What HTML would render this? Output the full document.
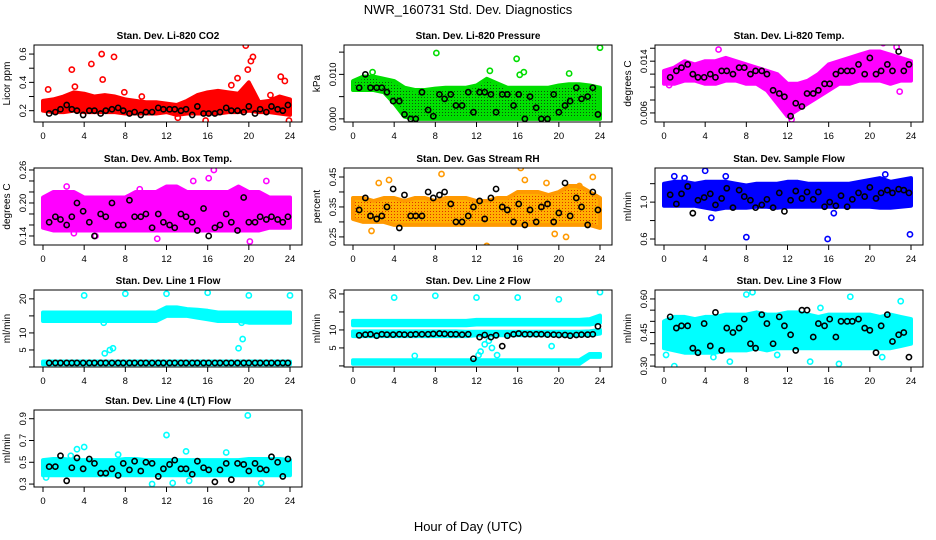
<!DOCTYPE html>
<html><head><meta charset="utf-8"><style>
html,body{margin:0;padding:0;background:#fff;}
svg{display:block;font-family:"Liberation Sans",Arial,sans-serif;}
</style></head><body>
<svg id="chart" width="936" height="540" viewBox="0 0 936 540" xmlns="http://www.w3.org/2000/svg">
<defs>
<pattern id="patGreen" width="3" height="3" patternUnits="userSpaceOnUse"><rect width="3" height="3" fill="#00e000"/><rect x="1" y="1" width="1" height="1" fill="#105010"/></pattern>
<pattern id="patOrange" width="3" height="3" patternUnits="userSpaceOnUse"><rect width="3" height="3" fill="#ffb000"/><rect x="1" y="1" width="1" height="1" fill="#e03000"/></pattern>
</defs>
<text x="468" y="14" text-anchor="middle" font-size="13">NWR_160731  Std. Dev. Diagnostics</text>
<text x="468" y="531" text-anchor="middle" font-size="13">Hour of Day (UTC)</text>
</svg>
<script>
// shared hours
const hours = [0,1,2,3,4,5,6,7,8,9,10,11,12,13,14,15,16,17,18,19,20,21,22,23,24];
const meanHours = [0.6,1.2,1.7,2.3,2.8,3.3,3.9,4.5,5,5.6,6.1,6.7,7.3,7.8,8.4,8.9,9.5,10,10.6,11.2,11.7,12.3,12.8,13.4,13.9,14.5,15,15.6,16.1,16.7,17.2,17.8,18.3,18.9,19.5,20,20.6,21.1,21.7,22.2,22.8,23.3,23.8];
const xTicks = [0,4,8,12,16,20,24];

// Panel 1 CO2
const co2Hi = [0.27,0.28,0.30,0.33,0.32,0.30,0.31,0.30,0.28,0.27,0.26,0.26,0.25,0.24,0.27,0.31,0.33,0.34,0.33,0.32,0.40,0.26,0.27,0.30,0.28];
const co2Lo = [0.20,0.19,0.19,0.20,0.19,0.19,0.19,0.19,0.18,0.18,0.18,0.18,0.19,0.17,0.18,0.18,0.18,0.18,0.19,0.19,0.20,0.19,0.19,0.18,0.17];
const co2OutX = [0.5,2.8,3.1,4.7,5.7,5.8,6.9,7.9,9.6,15.8,18.3,18.9,19.7,19.9,20.2,20.4,23.1,23.5,23.9,13.1,22.1];
const co2OutY = [0.35,0.49,0.37,0.53,0.60,0.42,0.58,0.33,0.30,0.13,0.38,0.43,0.66,0.49,0.55,0.58,0.44,0.41,0.13,0.15,0.31];
const co2Mean = [0.18,0.19,0.21,0.24,0.21,0.20,0.17,0.20,0.20,0.18,0.20,0.21,0.22,0.20,0.18,0.19,0.17,0.19,0.19,0.22,0.21,0.21,0.21,0.20,0.21,0.17,0.23,0.18,0.18,0.18,0.19,0.22,0.20,0.20,0.19,0.23,0.18,0.21,0.19,0.23,0.21,0.20,0.24];
// Panel 2 Pressure
const presHi = [0.0085,0.0095,0.0095,0.009,0.0085,0.007,0.0065,0.0065,0.0068,0.007,0.007,0.007,0.0075,0.009,0.008,0.007,0.007,0.007,0.007,0.007,0.0075,0.0078,0.0078,0.0075,0.007];
const presLo = [0.0065,0.0065,0.0065,0.006,0.0035,0.0005,0,0,0,0,0,0,0,0,0,0,0,0,0,0,0,0,0,0,0];
const presOutX = [8.1,15.9,16.2,16.6,21,24,13.3,1.9];
const presOutY = [0.0148,0.0135,0.0099,0.0105,0.0102,0.0160,0.0108,0.0105];
const presMean = [0.007,0.010,0.007,0.007,0.007,0.006,0.004,0.004,0.001,0,0,0.006,0.002,0.0006,0.0055,0.0045,0.0055,0.003,0.003,0.006,0.0015,0.006,0.006,0.0055,0.0015,0.0055,0.0055,0.003,0.0055,0,0.005,0.0025,0,0,0.0055,0.0015,0.003,0.004,0.007,0.0045,0.005,0.007,0.001];
// Panel 3 Li-820 Temp
const tempHi = [0.0125,0.013,0.014,0.0135,0.014,0.014,0.0145,0.014,0.0135,0.013,0.0125,0.012,0.0105,0.0105,0.011,0.012,0.0135,0.014,0.0145,0.015,0.0155,0.0155,0.015,0.0145,0.014];
const tempLo = [0.0105,0.0105,0.011,0.011,0.0105,0.0105,0.011,0.011,0.0105,0.0105,0.0095,0.0075,0.0055,0.0065,0.0075,0.0085,0.0095,0.0105,0.0105,0.011,0.011,0.011,0.0105,0.011,0.011];
const tempOutX = [5.3,21.3,22.6,22.9,12.4,0.5];
const tempOutY = [0.0158,0.0168,0.0162,0.0093,0.0050,0.0103];
const tempMean = [0.0115,0.0125,0.013,0.0135,0.012,0.0115,0.0115,0.012,0.0115,0.0125,0.0125,0.012,0.013,0.013,0.012,0.0125,0.0125,0.012,0.0095,0.009,0.0085,0.0055,0.0075,0.007,0.009,0.009,0.0095,0.0105,0.0105,0.012,0.0125,0.0125,0.0125,0.0135,0.012,0.0145,0.012,0.0125,0.0135,0.0125,0.0155,0.0125,0.0135];
// Panel 4 Amb box temp
const ambHi = [0.21,0.22,0.22,0.22,0.21,0.21,0.21,0.21,0.21,0.22,0.22,0.22,0.23,0.23,0.22,0.22,0.22,0.22,0.22,0.23,0.22,0.22,0.21,0.21,0.21];
const ambLo = [0.155,0.15,0.15,0.15,0.15,0.15,0.15,0.15,0.15,0.15,0.15,0.15,0.15,0.15,0.15,0.15,0.15,0.15,0.15,0.15,0.15,0.15,0.155,0.155,0.155];
const ambOutX = [2.3,9.4,14.6,16.1,16.6,21.7,20.1,11.1,5.1,3.0];
const ambOutY = [0.23,0.225,0.24,0.245,0.26,0.24,0.13,0.135,0.14,0.145];
const ambMean = [0.165,0.175,0.17,0.16,0.175,0.20,0.185,0.165,0.14,0.18,0.175,0.20,0.16,0.16,0.205,0.175,0.175,0.18,0.155,0.18,0.165,0.16,0.155,0.18,0.175,0.165,0.15,0.19,0.14,0.155,0.16,0.18,0.165,0.15,0.21,0.165,0.165,0.175,0.17,0.175,0.17,0.165,0.175];
// Panel 5 RH
const rhHi = [0.38,0.38,0.37,0.38,0.38,0.37,0.38,0.38,0.37,0.38,0.38,0.38,0.37,0.37,0.38,0.38,0.40,0.40,0.40,0.39,0.40,0.42,0.42,0.40,0.38];
const rhLo = [0.31,0.30,0.30,0.30,0.29,0.29,0.29,0.29,0.29,0.29,0.29,0.29,0.29,0.29,0.29,0.29,0.29,0.29,0.29,0.29,0.29,0.29,0.29,0.29,0.28];
const rhOutX = [1.8,2.5,3.5,8.6,13,16.3,16.7,18.8,23.3,19.6,20.7,22];
const rhOutY = [0.27,0.43,0.44,0.46,0.22,0.48,0.44,0.43,0.45,0.26,0.25,0.42];
const rhMean = [0.34,0.38,0.32,0.31,0.32,0.35,0.41,0.28,0.39,0.32,0.32,0.32,0.40,0.38,0.39,0.40,0.36,0.30,0.30,0.32,0.35,0.37,0.31,0.38,0.41,0.35,0.34,0.30,0.36,0.29,0.34,0.30,0.35,0.36,0.30,0.33,0.43,0.32,0.38,0.35,0.29,0.40,0.34];
// Panel 6 Sample flow
const sfHi = [1.2,1.22,1.22,1.2,1.22,1.22,1.22,1.2,1.18,1.2,1.2,1.2,1.22,1.22,1.2,1.2,1.2,1.2,1.2,1.22,1.24,1.26,1.22,1.24,1.26];
const sfLo = [0.96,0.96,0.96,0.96,0.94,0.92,0.94,0.94,0.94,0.95,0.95,0.94,0.95,0.95,0.95,0.95,0.95,0.95,0.95,0.95,0.95,0.94,0.94,0.95,0.96];
const sfOutX = [4,4.6,1,21.5,8,15.9,23.9,16.5,2,6];
const sfOutY = [1.34,0.83,1.28,1.30,0.62,0.60,0.65,0.88,1.26,1.28];
const sfMean = [1.08,0.98,1.09,1.17,0.88,1.02,1.05,1.09,0.97,1.04,1.15,0.94,1.13,1.06,1.02,0.94,0.97,1.03,0.94,1.10,0.90,1.02,1.12,1.04,1.11,1.03,1.11,0.95,1.0,0.96,1.07,0.95,1.03,1.10,1.06,1.16,1.04,1.10,1.13,1.10,1.14,1.13,1.10];
// Panel 7 Line 1
const l1HiA = [16,16,16,16,16,16,16,16,16,16,16,16,17.5,17.5,17,16.8,16.5,16,16,16,16,16,16,16,16];
const l1LoA = [13.5,13.5,13.5,13.5,13.5,13.5,13.5,13.5,13.5,13.5,13.5,13.5,15,15,15,14.5,14,13.5,13.5,13.5,13,13,13,13,13];
const l1HiB = [1.6,1.6,1.6,1.6,1.6,1.6,1.6,1.6,1.6,1.6,1.6,1.6,1.6,1.6,1.6,1.6,1.6,1.6,1.6,1.6,1.6,1.6,1.6,1.6,1.6];
const l1LoB = [0.8,0.8,0.8,0.8,0.8,0.8,0.8,0.8,0.8,0.8,0.8,0.8,0.8,0.8,0.8,0.8,0.8,0.8,0.8,0.8,0.8,0.8,0.8,0.8,0.8];
const l1OutX = [4,8,12,16,20,24,6,6.5,6.8,19,19.4,5.9,19.3];
const l1OutY = [21,21.5,21.5,21.8,21,21,4,5,5.5,5.5,8.2,13,13];
const l1Mean = [1.2,1.2,1.2,1.2,1.2,1.2,1.2,1.2,1.2,1.2,1.2,1.2,1.2,1.2,1.2,1.2,1.2,1.2,1.2,1.2,1.2,1.2,1.2,1.2,1.2,1.2,1.2,1.2,1.2,1.2,1.2,1.2,1.2,1.2,1.2,1.2,1.2,1.2,1.2,1.2,1.2,1.2,1.2];
// Panel 8 Line 2
const l2HiA = [12.5,12.5,12.5,12.5,12.5,12.5,12.5,12.5,12.5,12.5,12.5,12.5,12.8,12.8,12.8,12.8,12.8,12.8,12.8,12.8,12.8,12.8,12.8,13,14];
const l2LoA = [11.3,11.3,11.3,11.3,11.3,11.3,11.3,11.3,11.3,11.3,11.3,11.3,11.5,11.5,11.5,11.5,11.5,11.5,11.5,11.5,11.5,11.5,11.5,11.5,12];
const l2HiB = [9.6,9.6,9.6,9.6,9.6,9.6,9.6,9.6,9.6,9.6,9.6,9.5,9.5,9.5,9.5,9.5,9.5,9.5,9.5,9.5,9.5,9.5,9.5,9.6,10];
const l2LoB = [8.3,8.3,8.3,8.3,8.3,8.3,8.3,8.3,8.3,8.3,8.3,8.3,8.5,8.5,8.5,8.5,8.5,8.5,8.5,8.5,8.5,8.5,8.5,8.5,9];
const l2HiC = [1.6,1.6,1.6,1.6,1.6,1.6,1.6,1.6,1.6,1.6,1.6,1.6,1.6,1.6,1.6,1.6,1.6,1.6,1.6,1.6,1.6,1.6,1.6,3.3,3.3];
const l2LoC = [0.6,0.6,0.6,0.6,0.6,0.6,0.6,0.6,0.6,0.6,0.6,0.6,0.6,0.6,0.6,0.6,0.6,0.6,0.6,0.6,0.6,0.6,0.6,2.5,2.5];
const l2OutX = [4,8,12,16,20,24,12.4,12.8,13.5,14,19.3,6,13.2,12.2];
const l2OutY = [19,19.5,19,19,18.5,20.5,4,6,5,3,5.5,2.8,7,3];
const l2Mean = [8.5,8.7,8.8,8.4,8.8,8.7,8.7,8.8,8.7,8.7,8.8,8.8,8.8,8.9,9.0,8.9,8.8,8.8,8.7,8.8,2.0,8.0,8.6,8.0,8.5,5.5,8.4,8.8,9.0,8.8,8.8,8.8,8.8,8.7,8.7,8.6,8.6,8.4,8.6,8.7,8.7,8.8,11.0];
// Panel 9 Line 3
const l3Hi = [0.50,0.52,0.52,0.51,0.52,0.52,0.53,0.53,0.53,0.54,0.53,0.53,0.54,0.54,0.53,0.52,0.53,0.53,0.53,0.53,0.53,0.52,0.53,0.52,0.51];
const l3Lo = [0.38,0.37,0.36,0.36,0.36,0.36,0.37,0.37,0.37,0.38,0.37,0.38,0.38,0.38,0.38,0.38,0.38,0.38,0.38,0.38,0.38,0.38,0.38,0.39,0.40];
const l3OutX = [1,6.4,8,8.6,14.2,17,18.1,23,0.2,21.2,4.8,11,15.2];
const l3OutY = [0.30,0.32,0.62,0.63,0.32,0.31,0.61,0.59,0.35,0.34,0.34,0.35,0.56];
const l3Mean = [0.52,0.47,0.48,0.48,0.38,0.36,0.49,0.39,0.54,0.37,0.47,0.45,0.47,0.51,0.40,0.38,0.53,0.49,0.40,0.52,0.48,0.44,0.37,0.55,0.55,0.43,0.49,0.48,0.51,0.43,0.50,0.50,0.50,0.51,0.47,0.46,0.36,0.48,0.53,0.41,0.44,0.45,0.34];
// Panel 10 Line 4
const l4Hi = [0.52,0.53,0.53,0.52,0.52,0.52,0.52,0.52,0.53,0.53,0.52,0.52,0.52,0.52,0.52,0.52,0.52,0.52,0.52,0.52,0.53,0.53,0.53,0.53,0.52];
const l4Lo = [0.38,0.38,0.38,0.38,0.38,0.38,0.38,0.38,0.38,0.38,0.38,0.38,0.38,0.38,0.38,0.38,0.38,0.38,0.38,0.38,0.38,0.38,0.38,0.38,0.38];
const l4OutX = [12,19.9,3.3,4,7.3,13.9,17.8,10.6,12.6,21.2,0.3,2.7,14.2];
const l4OutY = [0.75,0.93,0.62,0.64,0.57,0.60,0.59,0.30,0.31,0.31,0.36,0.56,0.33];
const l4Mean = [0.46,0.46,0.56,0.33,0.45,0.54,0.44,0.53,0.49,0.40,0.40,0.44,0.38,0.49,0.43,0.51,0.42,0.50,0.49,0.37,0.44,0.48,0.52,0.44,0.44,0.39,0.51,0.45,0.43,0.32,0.43,0.49,0.34,0.49,0.48,0.42,0.49,0.44,0.43,0.55,0.50,0.37,0.53];

const panels = [
 {name:'co2',title:'Stan. Dev. Li-820 CO2',ylab:'Licor ppm',col:0,row:0,ymin:0.12,ymax:0.664,ticks:[0.2,0.3,0.4,0.5,0.6],labels:[0.2,0.4,0.6],dec:1,color:'#ff0000',fill:'#ff0000',bands:[[co2Lo,co2Hi]],ox:co2OutX,oy:co2OutY,my:co2Mean},
 {name:'pressure',title:'Stan. Dev. Li-820 Pressure',ylab:'kPa',col:1,row:0,ymin:-0.0007,ymax:0.0166,ticks:[0,0.005,0.010,0.015],labels:[0,0.010],dec:3,color:'#00dd00',fill:'url(#patGreen)',bands:[[presLo,presHi]],ox:presOutX,oy:presOutY,my:presMean},
 {name:'li820-temp',title:'Stan. Dev. Li-820 Temp.',ylab:'degrees C',col:2,row:0,ymin:0.0046,ymax:0.0165,ticks:[0.006,0.008,0.010,0.012,0.014,0.016],labels:[0.006,0.014],dec:3,color:'#ff00ff',fill:'#ff00ff',bands:[[tempLo,tempHi]],ox:tempOutX,oy:tempOutY,my:tempMean},
 {name:'amb-box-temp',title:'Stan. Dev. Amb. Box Temp.',ylab:'degrees C',col:0,row:1,ymin:0.1236,ymax:0.2636,ticks:[0.14,0.16,0.18,0.20,0.22,0.24,0.26],labels:[0.14,0.20,0.26],dec:2,color:'#ff00ff',fill:'#ff00ff',bands:[[ambLo,ambHi]],ox:ambOutX,oy:ambOutY,my:ambMean},
 {name:'gas-rh',title:'Stan. Dev. Gas Stream RH',ylab:'percent',col:1,row:1,ymin:0.223,ymax:0.48,ticks:[0.25,0.30,0.35,0.40,0.45],labels:[0.25,0.35,0.45],dec:2,color:'#ff9900',fill:'url(#patOrange)',bands:[[rhLo,rhHi]],ox:rhOutX,oy:rhOutY,my:rhMean},
 {name:'sample-flow',title:'Stan. Dev. Sample Flow',ylab:'ml/min',col:2,row:1,ymin:0.535,ymax:1.37,ticks:[0.6,0.8,1.0,1.2],labels:[0.6,1.0],dec:1,color:'#0000ff',fill:'#0000ff',bands:[[sfLo,sfHi]],ox:sfOutX,oy:sfOutY,my:sfMean},
 {name:'line1-flow',title:'Stan. Dev. Line 1 Flow',ylab:'ml/min',col:0,row:2,ymin:0,ymax:22.6,ticks:[0,5,10,15,20],labels:[5,10,20],dec:0,color:'#00ffff',fill:'#00ffff',bands:[[l1LoA,l1HiA],[l1LoB,l1HiB]],ox:l1OutX,oy:l1OutY,my:l1Mean},
 {name:'line2-flow',title:'Stan. Dev. Line 2 Flow',ylab:'ml/min',col:1,row:2,ymin:-0.3,ymax:21.1,ticks:[0,5,10,15,20],labels:[5,10,20],dec:0,color:'#00ffff',fill:'#00ffff',bands:[[l2LoA,l2HiA],[l2LoB,l2HiB],[l2LoC,l2HiC]],ox:l2OutX,oy:l2OutY,my:l2Mean},
 {name:'line3-flow',title:'Stan. Dev. Line 3 Flow',ylab:'ml/min',col:2,row:2,ymin:0.296,ymax:0.64,ticks:[0.30,0.35,0.40,0.45,0.50,0.55,0.60],labels:[0.30,0.45,0.60],dec:2,color:'#00ffff',fill:'#00ffff',bands:[[l3Lo,l3Hi]],ox:l3OutX,oy:l3OutY,my:l3Mean},
 {name:'line4-flow',title:'Stan. Dev. Line 4 (LT) Flow',ylab:'ml/min',col:0,row:3,ymin:0.273,ymax:0.98,ticks:[0.3,0.5,0.7,0.9],labels:[0.3,0.5,0.7,0.9],dec:1,color:'#00ffff',fill:'#00ffff',bands:[[l4Lo,l4Hi]],ox:l4OutX,oy:l4OutY,my:l4Mean}
];

const NS='http://www.w3.org/2000/svg';
const svg=document.getElementById('chart');
const lefts=[34,344,655], tops=[45,168,290,410], W=268, H=77;
function mk(tag,attrs,parent){const e=document.createElementNS(NS,tag);for(const k in attrs)e.setAttribute(k,attrs[k]);parent.appendChild(e);return e;}

panels.forEach(p=>{
  const L=lefts[p.col], T=tops[p.row];
  const xs=h=>L+9+h*(247/24);
  const ys=v=>T+H-(v-p.ymin)/(p.ymax-p.ymin)*H;
  const g=mk('g',{},svg);
  
  
  const t=mk('text',{x:L+W/2,y:T-6,'text-anchor':'middle','font-size':'10','font-weight':'bold'},g);
  t.textContent=p.title;
  
  
  const yl=mk('text',{x:0,y:0,'text-anchor':'middle','font-size':'10',transform:`translate(${L-24},${T+H/2}) rotate(-90)`},g);
  yl.textContent=p.ylab;
  
  
  // clip
  const cid='clip'+p.name;
  const cp=mk('clipPath',{id:cid},g); mk('rect',{x:L,y:T,width:W,height:H},cp);
  const plot=mk('g',{'clip-path':`url(#${cid})`},g);
  // bands
  p.bands.forEach((b,bi)=>{
    const lo=b[0],hi=b[1];
    let d='';
    hours.forEach((h,i)=>{d+=(i?'L':'M')+xs(h).toFixed(1)+','+ys(hi[i]).toFixed(1);});
    for(let i=hours.length-1;i>=0;i--){d+='L'+xs(hours[i]).toFixed(1)+','+ys(lo[i]).toFixed(1);}
    d+='Z';
    const band=mk('path',{d:d,fill:p.fill,stroke:p.color,'stroke-width':'4','stroke-linejoin':'round'},plot);
    
    
  });
  // outliers
  p.ox.forEach((x,i)=>{
    const c=mk('circle',{cx:xs(x),cy:ys(p.oy[i]),r:2.6,fill:'none',stroke:p.color,'stroke-width':'1.6'},plot);
    
    
  });
  // means
  meanHours.forEach((x,i)=>{
    const c=mk('circle',{cx:xs(x),cy:ys(p.my[i]),r:2.6,fill:'none',stroke:'#000','stroke-width':'1.6'},plot);
    
    
  });
  // box
  const box=mk('rect',{x:L,y:T,width:W,height:H,fill:'none',stroke:'#000','stroke-width':'1'},g);
  
  
  // x axis
  mk('line',{x1:xs(0),x2:xs(24),y1:T+H,y2:T+H,stroke:'#000'},g);
  xTicks.forEach(h=>{
    mk('line',{x1:xs(h),x2:xs(h),y1:T+H,y2:T+H+5,stroke:'#000'},g);
    const tl=mk('text',{x:xs(h),y:T+H+17,'text-anchor':'middle','font-size':'9.5'},g);
    tl.textContent=h;
    
    
  });
  // y axis ticks
  p.ticks.forEach(v=>{
    const y=ys(v); if(y<T-1||y>T+H+1) return;
    mk('line',{x1:L-5,x2:L,y1:y,y2:y,stroke:'#000'},g);
  });
  p.labels.forEach(v=>{
    const y=ys(v);
    const tl=mk('text',{x:0,y:0,'text-anchor':'middle','font-size':'9.5',transform:`translate(${L-8},${y}) rotate(-90)`},g);
    tl.textContent=v.toFixed(p.dec);
    
    
  });
});
</script>
</body></html>
